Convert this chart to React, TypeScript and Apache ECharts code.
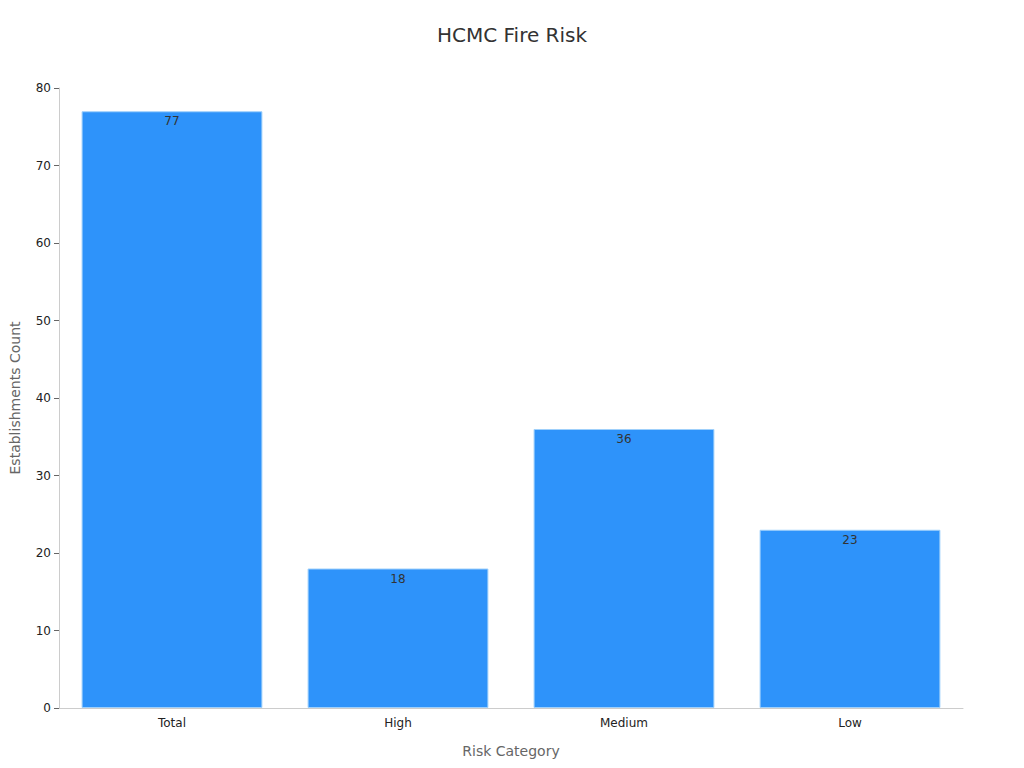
import React, { useEffect, useRef } from "react";
import * as echarts from "echarts";

const categories = ["Total", "High", "Medium", "Low"];
const counts = [77, 18, 36, 23];
const yTicks = [0, 10, 20, 30, 40, 50, 60, 70, 80];

export default function App() {
  const ref = useRef<HTMLDivElement>(null);
  useEffect(() => {
    if (!ref.current) return;
    const chart = echarts.init(ref.current, null, { renderer: "svg" });
    chart.setOption({
      animation: false,
      textStyle: { fontFamily: "DejaVu Sans" },
      title: {
        text: "HCMC Fire Risk",
        left: "center",
        top: 12,
        textStyle: { fontSize: 20, fontWeight: "normal", color: "#333" },
      },
      grid: { left: 51, right: 53, top: 80, bottom: 52, outerBoundsMode: "none", containLabel: false },
      xAxis: {
        type: "category",
        data: categories,
        name: "Risk Category",
        nameLocation: "middle",
        nameGap: 36,
        nameTextStyle: { fontSize: 14, color: "#666" },
        axisLine: { lineStyle: { color: "#ccc" } },
        axisTick: { alignWithLabel: true, length: 5, lineStyle: { color: "#999" } },
        axisLabel: { color: "#222", fontSize: 12, margin: 9 },
      },
      yAxis: {
        type: "value",
        min: yTicks[0],
        max: yTicks[yTicks.length - 1],
        interval: 10,
        name: "Establishments Count",
        nameLocation: "middle",
        nameGap: 37,
        nameTextStyle: { fontSize: 14, color: "#666" },
        axisLine: { show: true, lineStyle: { color: "#ccc" } },
        axisTick: { show: true, length: 5, lineStyle: { color: "#666" } },
        axisLabel: { color: "#222", fontSize: 12, margin: 8 },
        splitLine: { show: false },
      },
      series: [
        {
          type: "bar",
          data: counts,
          barWidth: "80%",
          itemStyle: { color: "#2E93FA", borderColor: "#9fd0fb", borderWidth: 1 },
          label: {
            show: true,
            position: "insideTop",
            color: "#333",
            fontSize: 12,
            distance: 4,
          },
        },
      ],
    });
    return () => chart.dispose();
  }, []);
  return <div ref={ref} style={{ width: 1008, height: 752 }} />;
}
